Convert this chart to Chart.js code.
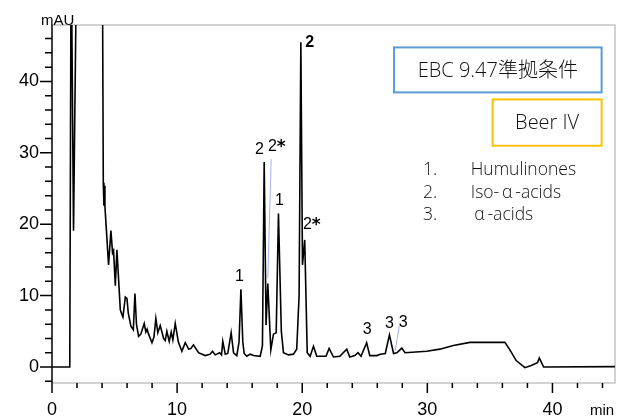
<!DOCTYPE html>
<html>
<head>
<meta charset="utf-8">
<script src="https://cdn.jsdelivr.net/npm/chart.js@4.4.1/dist/chart.umd.min.js"></script>
<style>
  html, body { margin:0; padding:0; background:#fff; }
  #wrap { width:624px; height:418px; position:relative; }
</style>
</head>
<body>
<div id="wrap"><canvas id="chrom"></canvas></div>
<script>
'use strict';

/* ── DATA ────────────────────────────────────────────────── */
// retention time (min) and absorbance (mAU)
const TIME = [
  0, 1.42, 1.53, 1.58, 1.72, 1.98, 2.5, 3.5, 4.02, 4.1, 4.15, 4.19, 4.23,
  4.52, 4.71, 4.84, 4.92, 5.06, 5.19, 5.46, 5.58, 5.67, 5.86, 5.99, 6.1,
  6.31, 6.5, 6.63, 6.75, 6.92, 7.1, 7.37, 7.5, 7.6, 7.72, 7.99, 8.15, 8.3,
  8.46, 8.65, 8.92, 9.05, 9.18, 9.37, 9.53, 9.66, 9.85, 10.1, 10.38, 10.65,
  10.92, 11.1, 11.31, 11.71, 12.25, 12.64, 12.83, 13.05, 13.4, 13.55, 13.65,
  13.85, 14.05, 14.32, 14.51, 14.77, 14.95, 15.1, 15.25, 15.36, 15.57, 15.84,
  16.11, 16.64, 16.82, 16.96, 17.11, 17.25, 17.49, 17.7, 17.92, 18.1, 18.33,
  18.5, 18.9, 19.3, 19.56, 19.75, 19.89, 20.02, 20.2, 20.4, 20.63, 20.9,
  21.16, 21.9, 22.15, 22.5, 23.0, 23.56, 23.8, 24.2, 24.46, 24.7, 25.15,
  25.4, 25.97, 26.24, 26.64, 26.97, 27.3, 27.57, 27.96, 28.22, 29.95, 31.0,
  32.08, 33.4, 36.2, 36.6, 37.1, 37.8, 38.3, 38.8, 38.95, 39.3, 45
];
const SIGNAL = [
  0, 0, 60, 60, 19.1, 60, 120, 80, 60, 25.8, 22.6, 25.4, 22.5,
  14.3, 19.1, 16.0, 16.3, 11.4, 16.4, 8.0, 7.4, 7.0, 9.8, 9.6, 7.5,
  5.7, 5.2, 10.3, 6.0, 4.3, 4.6, 6.1, 4.9, 5.3, 4.6, 3.4, 4.2, 6.8,
  4.8, 5.8, 4.0, 3.7, 5.0, 3.6, 4.9, 3.8, 6.1, 3.5, 2.2, 3.4,
  2.5, 2.6, 3.1, 2.0, 1.6, 1.8, 2.2, 1.7, 2.0, 1.7, 3.6,
  1.8, 1.9, 4.8, 2.0, 1.6, 3.5, 10.9, 3.5, 1.9, 1.5, 1.8,
  1.6, 1.5, 3.0, 28.7, 5.9, 11.7, 2.4, 4.6, 4.8, 21.5, 5.0,
  2.0, 1.7, 1.8, 2.5, 10, 45.5, 14.3, 17.8, 2.0, 1.5, 2.9,
  1.5, 1.5, 2.6, 1.4, 1.5, 2.5, 1.4, 1.6, 2.0, 1.5, 3.4,
  1.6, 1.6, 1.8, 1.9, 4.5, 1.9, 2.0, 2.65, 2.0, 2.2, 2.5,
  3.0, 3.45, 3.45, 2.4, 0.9, -0.1, 0.2, 0.6, 1.25, 0.0, 0.05
];

const COMPOUNDS = ['Humulinones', 'Iso-\u2009\u03B1\u2009-acids', '\u03B1\u2009-acids'];
const CONDITION = 'EBC 9.47準拠条件';
const SAMPLE = 'Beer IV';

/* ── ANNOTATIONS (data coords) ───────────────────────────── */
const TAGS = [
  { text:'2',  t:20.6,  v:45.5, bold:true },
  { text:'2',  t:16.58, v:30.5 },
  { text:'2*', t:17.97, v:30.85 },
  { text:'1',  t:18.18, v:23.3 },
  { text:'2*', t:20.77, v:19.9 },
  { text:'1',  t:14.98, v:12.67 },
  { text:'3',  t:25.2,  v:5.2 },
  { text:'3',  t:26.97, v:6.06 },
  { text:'3',  t:28.08, v:6.24 },
];
const LEADERS = [
  { t1:17.52, v1:29.1, t2:17.25, v2:12.45 },
  { t1:27.76, v1:5.78, t2:27.42, v2:2.18 },
];

const AX_FONT = "'Liberation Sans', Arial, sans-serif";
const UI_FONT = "'Open Sans', 'Noto Sans CJK JP', sans-serif";

/* ── PLUGINS ─────────────────────────────────────────────── */
const framePlugin = {
  id:'frame',
  beforeDatasetsDraw(chart) {
    const { ctx, chartArea:a, scales:{ x, y } } = chart;
    ctx.save();
    ctx.strokeStyle = '#c4c4c4';
    ctx.lineWidth = 1.5;
    ctx.beginPath();
    ctx.moveTo(a.left, a.top); ctx.lineTo(a.right, a.top);
    ctx.lineTo(a.right, a.bottom); ctx.lineTo(a.left, a.bottom);
    ctx.stroke();

    ctx.strokeStyle = '#000';
    ctx.lineWidth = 1.5;
    ctx.beginPath();
    ctx.moveTo(a.left, a.top); ctx.lineTo(a.left, a.bottom);
    y.ticks.forEach(tk => {
      const py = y.getPixelForValue(tk.value);
      const len = tk.value % 10 === 0 ? 12 : 7;
      ctx.moveTo(a.left - len, py); ctx.lineTo(a.left, py);
    });
    x.ticks.forEach(tk => {
      const px = x.getPixelForValue(tk.value);
      const len = tk.value % 10 === 0 ? 10 : 5;
      ctx.moveTo(px, a.bottom); ctx.lineTo(px, a.bottom + len);
    });
    ctx.stroke();
    ctx.restore();
  }
};

const notePlugin = {
  id:'notes',
  afterDraw(chart) {
    const { ctx, chartArea:a, scales:{ x, y } } = chart;
    const X = t => x.getPixelForValue(t), Y = v => y.getPixelForValue(v);
    ctx.save();

    // axis units
    ctx.fillStyle = '#000';
    ctx.font = `15px ${AX_FONT}`;
    ctx.textAlign = 'left';
    ctx.textBaseline = 'alphabetic';
    ctx.fillText('mAU', a.left - 11, a.top);
    ctx.fillText('min', a.right - 25, a.bottom + 32);

    // leader lines
    ctx.strokeStyle = '#a9aef5';
    ctx.lineWidth = 1;
    LEADERS.forEach(l => {
      ctx.beginPath();
      ctx.moveTo(X(l.t1), Y(l.v1)); ctx.lineTo(X(l.t2), Y(l.v2));
      ctx.stroke();
    });

    // peak tags ("*" drawn heavier, like the original)
    ctx.textAlign = 'left';
    ctx.textBaseline = 'middle';
    TAGS.forEach(g => {
      const [num, star] = g.text.split('*');
      const fNum = `${g.bold ? 'bold ' : ''}16px ${AX_FONT}`;
      const fStar = `bold 17px 'DejaVu Sans', sans-serif`;
      ctx.font = fNum;
      const wNum = ctx.measureText(num).width;
      let wStar = 0;
      if (star !== undefined) { ctx.font = fStar; wStar = ctx.measureText('*').width; }
      const x0 = X(g.t) - (wNum + wStar) / 2, py = Y(g.v);
      ctx.font = fNum;
      ctx.fillText(num, x0, py);
      if (star !== undefined) {
        ctx.font = fStar;
        ctx.fillText('*', x0 + wNum, py + 1);
      }
    });

    // condition boxes
    const box = (t1, t2, v1, v2, col, txt) => {
      const l = X(t1), r = X(t2), tp = Y(v1), bt = Y(v2);
      ctx.strokeStyle = col;
      ctx.lineWidth = 2;
      ctx.strokeRect(l, tp, r - l, bt - tp);
      ctx.fillStyle = '#111';
      ctx.font = `300 20px ${UI_FONT}`;
      ctx.textAlign = 'center';
      ctx.textBaseline = 'middle';
      ctx.fillText(txt, (l + r) / 2, (tp + bt) / 2 + 1);
    };
    box(27.34, 43.93, 44.76, 38.46, '#5b9bd5', CONDITION);
    box(35.22, 43.93, 37.48, 30.99, '#ffc000', SAMPLE);

    // compound legend
    ctx.fillStyle = '#111';
    ctx.font = `300 17.5px ${UI_FONT}`;
    ctx.textAlign = 'left';
    ctx.textBaseline = 'middle';
    COMPOUNDS.forEach((name, i) => {
      const py = Y(27.6 - i * 3.17);
      ctx.fillText(`${i + 1}.`, X(29.65), py);
      ctx.fillText(name, X(i === 2 ? 33.75 : 33.47), py);
    });

    ctx.restore();
  }
};

/* ── CHART ───────────────────────────────────────────────── */
const points = TIME.map((t, i) => ({ x:t, y:SIGNAL[i] }));

new Chart(document.getElementById('chrom'), {
  type:'line',
  data:{
    datasets:[{
      data:points,
      borderColor:'#000',
      borderWidth:1.6,
      pointRadius:0,
      tension:0,
      fill:false,
      clip:0,
    }]
  },
  options:{
    responsive:true, maintainAspectRatio:false, animation:false,
    layout:{ padding:{ top:25, right:9, left:0, bottom:0 } },
    plugins:{ legend:{ display:false }, tooltip:{ enabled:false } },
    scales:{
      x:{
        type:'linear', min:0, max:45,
        grid:{ display:false, drawTicks:false }, border:{ display:false },
        ticks:{
          stepSize:2, autoSkip:false, includeBounds:false, maxRotation:0,
          padding:16, color:'#000', font:{ family:AX_FONT, size:18 },
          callback:v => v % 10 === 0 ? v : ''
        },
        afterFit:s => { s.height = 35; }
      },
      y:{
        type:'linear', min:-2.24, max:47.9,
        grid:{ display:false, drawTicks:false }, border:{ display:false },
        ticks:{
          stepSize:2, autoSkip:false, includeBounds:false,
          padding:13, color:'#000', font:{ family:AX_FONT, size:18 },
          callback:v => v % 10 === 0 ? v : ''
        },
        afterFit:s => { s.width = 52; }
      }
    }
  },
  plugins:[framePlugin, notePlugin]
});
</script>
</body>
</html>
